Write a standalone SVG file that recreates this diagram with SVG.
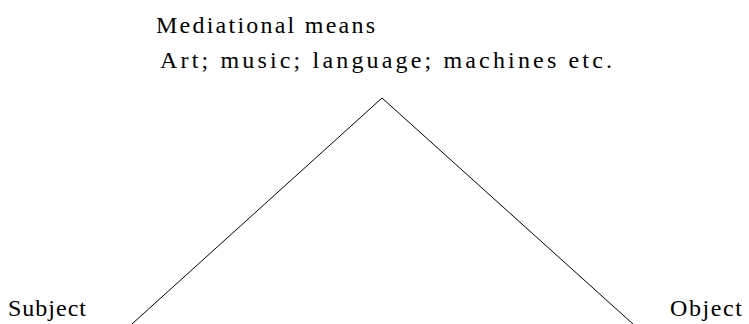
<svg xmlns="http://www.w3.org/2000/svg" width="749" height="324" viewBox="0 0 749 324">
<style>
.t{font-family:'Liberation Serif','DejaVu Serif',serif;font-size:24px;fill:#000}
.ln{stroke:#000;stroke-width:1;fill:none}
</style>
<rect width="749" height="324" fill="#fff"/>
<g id="mediational-means">
<text class="t" x="156" y="33" textLength="219" lengthAdjust="spacing">Mediational means</text>
<text class="t" x="160" y="68" textLength="452" lengthAdjust="spacing">Art; music; language; machines etc.</text>
</g>
<g id="subject"><text class="t" x="8" y="316" textLength="78" lengthAdjust="spacing">Subject</text></g>
<g id="object"><text class="t" x="670" y="316" textLength="72" lengthAdjust="spacing">Object</text></g>
<g id="connectors">
<polyline class="ln" points="132,324 382,98 633,324"/>
</g>
</svg>
